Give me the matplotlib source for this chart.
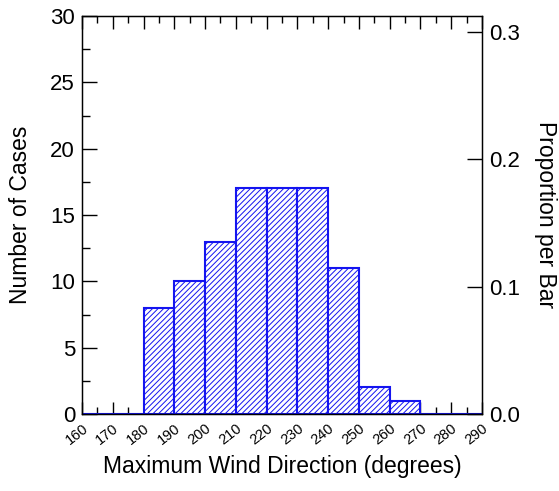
import numpy as np
import matplotlib
matplotlib.use('Agg')
import matplotlib.pyplot as plt
from matplotlib.ticker import MultipleLocator, FormatStrFormatter

plt.rcParams['font.family'] = ['Liberation Sans', 'DejaVu Sans']
plt.rcParams['hatch.linewidth'] = 0.7

# Histogram bins (degrees) and counts per bin
bin_edges = [160, 170, 180, 190, 200, 210, 220, 230, 240, 250, 260, 270, 280, 290]
counts = [0, 0, 8, 10, 13, 17, 17, 17, 11, 2, 1, 0, 0]
x_ticks = [160, 170, 180, 190, 200, 210, 220, 230, 240, 250, 260, 270, 280, 290]

n_total = sum(counts)

fig = plt.figure(figsize=(5.59, 4.91), dpi=100)
ax = fig.add_axes([82 / 559, 1 - 414 / 491, 400 / 559, 398 / 491])

lefts = np.array(bin_edges[:-1])
widths = np.diff(bin_edges)
ax.bar(lefts, counts, width=widths, align='edge', facecolor='white',
       edgecolor='#1414f0', hatch='//////', linewidth=1.5, zorder=2)

ax.set_xlim(160, 290)
ax.set_ylim(0, 30)
ax.set_xticks(x_ticks)
ax.set_xticklabels([str(t) for t in x_ticks], rotation=38, ha='right',
                   va='top', rotation_mode='anchor', fontsize=10.5)
ax.xaxis.set_minor_locator(MultipleLocator(5))
ax.yaxis.set_major_locator(MultipleLocator(5))
ax.yaxis.set_minor_locator(MultipleLocator(2.5))
ax.tick_params(axis='x', which='major', direction='in', length=9, width=1,
               top=True, pad=5)
ax.tick_params(axis='x', which='minor', direction='in', length=5, width=1, top=True)
ax.tick_params(axis='y', which='major', direction='in', length=11, width=1,
               labelsize=16, pad=5)
ax.tick_params(axis='y', which='minor', direction='in', length=6, width=1)
for s in ax.spines.values():
    s.set_linewidth(1)

ax.set_xlabel('Maximum Wind Direction (degrees)', fontsize=16.5, va='center')
ax.xaxis.set_label_coords(0.5, -0.133)
ax.set_ylabel('Number of Cases', fontsize=16.5, va='center', ha='center')
ax.yaxis.set_label_coords(-0.1525, 0.5)

# Right axis: proportion of all cases
ax2 = ax.twinx()
ax2.set_ylim(0, 30 / n_total)
ax2.yaxis.set_major_locator(MultipleLocator(0.1))
ax2.yaxis.set_major_formatter(FormatStrFormatter('%.1f'))
ax2.tick_params(axis='y', which='major', direction='in', length=11, width=1,
                labelsize=16, pad=5)
ax2.set_ylabel('Proportion per Bar', fontsize=16.5, rotation=-90,
               va='center', ha='center')
ax2.yaxis.set_label_coords(1.1575, 0.5)

fig.savefig('out.png', dpi=100)
